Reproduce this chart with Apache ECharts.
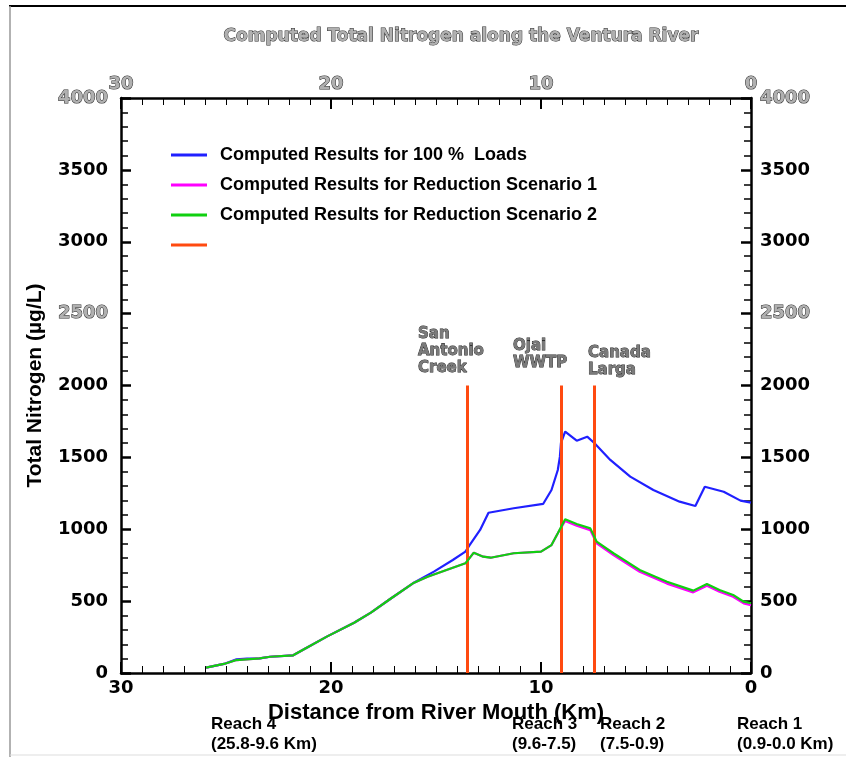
<!DOCTYPE html>
<html><head><meta charset="utf-8">
<script src="https://cdn.jsdelivr.net/npm/echarts@6/dist/echarts.min.js"></script>
<style>html,body{margin:0;padding:0;background:#fff}#c{width:846px;height:757px}</style>
</head><body><div id="c"></div>
<script>
// Blue: computed results for 100% loads
const blueDist = [25.95,25.1,24.5,24.0,23.4,22.9,21.8,21.2,20.2,18.9,18.1,17.2,16.1,15.1,14.2,13.6,13.4,12.9,12.5,11.3,9.9,9.5,9.2,9.1,9.05,8.85,8.3,7.8,7.45,6.7,5.75,4.65,3.4,2.65,2.2,1.3,0.5,0.0];
const blueVal  = [37,63,95,100,102,113,123,172,253,350,420,513,624,705,786,844,890,995,1115,1146,1176,1273,1412,1505,1600,1679,1616,1644,1598,1482,1366,1273,1192,1162,1296,1261,1199,1185];
// Green (scenario 2) and magenta (scenario 1) share distances
const greenDist = [25.95,25.1,24.5,23.4,22.9,21.8,21.2,20.2,18.9,18.1,17.2,16.1,15.4,14.5,13.6,13.2,12.75,12.4,11.3,10.0,9.5,9.2,8.85,8.3,7.65,7.35,6.55,5.3,4.0,2.75,2.1,1.5,0.85,0.35,0.0];
const greenVal  = [37,63,90,102,113,123,172,253,350,420,513,624,670,717,763,837,809,802,833,844,890,972,1069,1037,1006,914,833,717,635,573,619,577,543,496,485];
const magentaVal= [37,63,90,102,113,123,172,253,350,420,513,624,670,717,763,837,809,802,833,844,890,972,1058,1025,993,902,820,704,622,561,607,565,530,484,472];
// Tributary / discharge markers
const markerDist = [13.5, 9.05, 7.45];
const markerNames = ['San\nAntonio\nCreek','Ojai\nWWTP','Canada\nLarga'];
const markerTop = 2000;
const reachLabels = ['Reach 4\n(25.8-9.6 Km)','Reach 3\n(9.6-7.5)','Reach 2\n(7.5-0.9)','Reach 1\n(0.9-0.0 Km)'];
const seriesNames = ['Computed Results for 100 %  Loads','Computed Results for Reduction Scenario 1','Computed Results for Reduction Scenario 2',' '];

const zip = (a,b)=>a.map((v,i)=>[v,b[i]]);
const chart = echarts.init(document.getElementById('c'));
const F = 'Arial, "Liberation Sans", sans-serif';
const W = '"DejaVu Sans", Verdana, sans-serif';
const hollow = {color:'#b0b0b0', textBorderColor:'#2a2a2a', textBorderWidth:1};

const xBase = {type:'value', min:0, max:30, interval:10, inverse:true,
  axisLine:{show:true,onZero:false,lineStyle:{color:'#000',width:2.5}},
  axisTick:{show:true,inside:true,length:11,lineStyle:{color:'#000',width:2}},
  minorTick:{show:true,splitNumber:10,length:7,lineStyle:{color:'#000',width:1}},
  splitLine:{show:false}};
const yBase = {type:'value', min:0, max:4000, interval:500,
  axisLine:{show:true,onZero:false,lineStyle:{color:'#000',width:2.5}},
  axisTick:{show:true,inside:true,length:10,lineStyle:{color:'#000',width:2.5}},
  minorTick:{show:true,splitNumber:5,length:7,lineStyle:{color:'#000',width:1.5}},
  splitLine:{show:false}};
const yFmt = v => (v===4000||v===2500) ? '{h|'+v+'}' : String(v);
const yRich = {h:Object.assign({fontFamily:W,fontWeight:'bold',fontSize:18},hollow)};

const option = {
  animation:false,
  textStyle:{fontFamily:F},
  title:{text:'Computed Total Nitrogen along the Ventura River', left:456, textAlign:'center', top:23,
    textStyle:Object.assign({fontFamily:W,fontWeight:'bold',fontSize:17},hollow)},
  grid:{left:121,right:95,top:98,bottom:84,containLabel:false},
  legend:{orient:'vertical',left:166,top:141,itemWidth:36,itemHeight:3,itemGap:12,icon:'rect',
    data:seriesNames, textStyle:{fontFamily:F,fontWeight:'bold',fontSize:18,color:'#000',padding:[0,0,0,8]}},
  xAxis:[
    Object.assign({}, xBase, {position:'bottom',
      name:'Distance from River Mouth (Km)',nameLocation:'middle',nameGap:15,
      nameTextStyle:{fontFamily:F,fontWeight:'bold',fontSize:22,color:'#000'},
      axisLabel:{margin:6,fontFamily:W,fontWeight:'bold',fontSize:18,color:'#000'}}),
    Object.assign({}, xBase, {position:'top',
      axisLabel:{margin:5,fontFamily:W,fontWeight:'bold',fontSize:18,...hollow}})
  ],
  yAxis:[
    Object.assign({}, yBase, {position:'left',
      name:'Total Nitrogen (µg/L)',nameLocation:'middle',nameGap:75,nameRotate:90,
      nameTextStyle:{fontFamily:F,fontWeight:'bold',fontSize:21,color:'#000'},
      axisLabel:{margin:13,fontFamily:W,fontWeight:'bold',fontSize:18,color:'#000',formatter:yFmt,rich:yRich}}),
    Object.assign({}, yBase, {position:'right',
      axisLabel:{margin:9,fontFamily:W,fontWeight:'bold',fontSize:18,color:'#000',formatter:yFmt,rich:yRich}})
  ],
  series:[
    {name:seriesNames[0],type:'line',data:zip(blueDist,blueVal),symbol:'none',color:'#2020ff',lineStyle:{width:2.2},z:3},
    {name:seriesNames[1],type:'line',data:zip(greenDist,magentaVal),symbol:'none',color:'#ff00ff',lineStyle:{width:2.2},z:4},
    {name:seriesNames[2],type:'line',data:zip(greenDist,greenVal),symbol:'none',color:'#10d010',lineStyle:{width:2.2},z:5},
    {name:seriesNames[3],type:'line',data:[],symbol:'none',color:'#ff4a10',lineStyle:{width:3},z:6,
      markLine:{symbol:'none',silent:true,label:{show:false},lineStyle:{color:'#ff4a10',width:3,type:'solid'},
        data:markerDist.map(d=>[{coord:[d,0]},{coord:[d,markerTop]}])}}
  ],
  graphic:[
    {type:'line',shape:{x1:9,y1:6,x2:846,y2:6},style:{stroke:'#000',lineWidth:2}},
    {type:'line',shape:{x1:10,y1:6,x2:10,y2:757},style:{stroke:'#999',lineWidth:1.5}},
    {type:'line',shape:{x1:10,y1:755,x2:846,y2:755},style:{stroke:'#ddd',lineWidth:1}}
  ]
};
chart.setOption(option);

// Marker name labels
const lblX = [418, 513, 588];
const lblBottom = [377, 372, 379];
const g = option.graphic.slice();
markerNames.forEach((n,i)=>{
  g.push({type:'text',x:lblX[i],y:lblBottom[i],style:{text:n,font:'bold 15px "DejaVu Sans", Verdana, sans-serif',lineHeight:17,textVerticalAlign:'bottom',textAlign:'left',fill:'#7a7a7a',stroke:'#1a1a1a',lineWidth:0.8}});
});
const reachX = [211,512,600,737];
reachLabels.forEach((t,i)=>{
  g.push({type:'text',x:reachX[i],y:714,style:{text:t,font:'bold 17px Arial, "Liberation Sans", sans-serif',lineHeight:20,fill:'#000'}});
});
chart.setOption({graphic:g});
</script></body></html>
